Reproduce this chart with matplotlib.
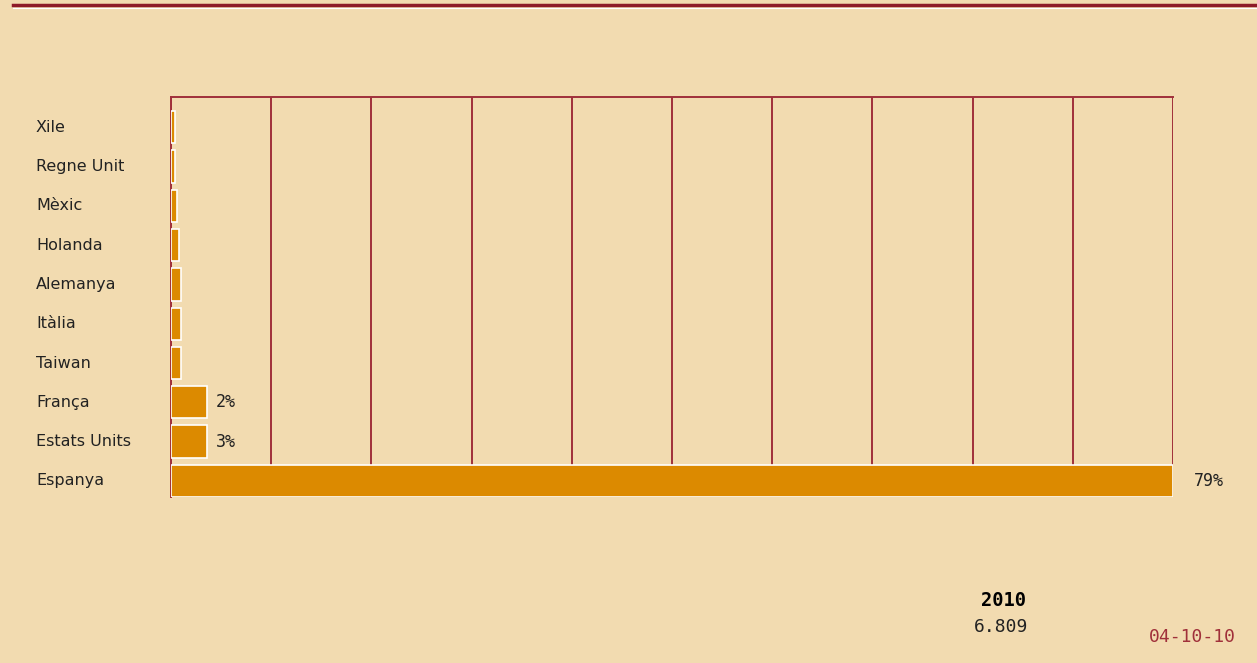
import numpy as np
import matplotlib.pyplot as plt
from matplotlib.lines import Line2D

countries = ['Xile', 'Regne Unit', 'Mèxic', 'Holanda', 'Alemanya', 'Itàlia',
             'Taiwan', 'França', 'Estats Units', 'Espanya']
shares = [0.3, 0.3, 0.45, 0.6, 0.75, 0.75, 0.75, 2.8, 2.85, 79]
share_labels = ['', '', '', '', '', '', '', '2%', '3%', '79%']
year = '2010'
total = '6.809'
date = '04-10-10'

bg = '#F2DBB0'
dark_red = '#A0303A'
orange = '#DC8A00'

fig = plt.figure(figsize=(12.57, 6.63), dpi=100, facecolor=bg)
W, H = 1257, 663
ax = fig.add_axes([171 / W, 1 - 497 / H, (1173 - 171) / W, 400 / H])
ax.set_facecolor(bg)

y = np.arange(len(countries))
ax.barh(y, shares, height=0.82, color=orange, edgecolor='white', linewidth=1.2, zorder=3)

ax.set_xlim(0, max(shares))
ax.set_ylim(9.41, -0.77)
ax.set_xticks(np.linspace(0, max(shares), 11))
ax.set_xticklabels([])
ax.set_yticks([])
ax.tick_params(length=0)
ax.grid(axis='x', color=dark_red, linewidth=1.4, zorder=1)
for s in ['right', 'bottom']:
    ax.spines[s].set_visible(False)
for s in ['top', 'left']:
    ax.spines[s].set_color(dark_red)
    ax.spines[s].set_linewidth(1.4)
ax.spines['left'].set_zorder(2)

for yi, name in zip(y, countries):
    ax.annotate(name, xy=(0, yi), xycoords=('axes fraction', 'data'),
                xytext=(-135, 0), textcoords='offset pixels',
                ha='left', va='center', fontsize=11.5, color='#222222')

for yi, v, lab in zip(y, shares, share_labels):
    if lab:
        ax.annotate(lab, xy=(v, yi), xytext=(9 if v < 50 else 21, 0),
                    textcoords='offset pixels', ha='left', va='center',
                    fontsize=12, color='#222222', family='DejaVu Sans Mono')

# top rule
fig.add_artist(Line2D([13 / W, 1], [1 - 5 / H, 1 - 5 / H], color='#8E1B28', linewidth=2.5))
fig.add_artist(Line2D([13 / W, 1], [1 - 8 / H, 1 - 8 / H], color='white', linewidth=0.8))

fig.text(1004 / W, 1 - 600 / H, year, ha='center', va='center', fontsize=13.5,
         fontweight='bold', family='DejaVu Sans Mono', color='black')
fig.text(1001 / W, 1 - 627 / H, total, ha='center', va='center', fontsize=13,
         family='DejaVu Sans Mono', color='#222222')
fig.text(1192 / W, 1 - 637 / H, date, ha='center', va='center', fontsize=13,
         family='DejaVu Sans Mono', color=dark_red)

fig.savefig('out.png', dpi=100, facecolor=bg)
